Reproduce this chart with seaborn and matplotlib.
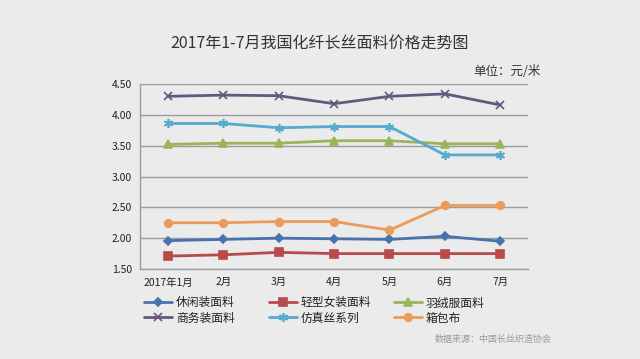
import matplotlib
matplotlib.use("Agg")
import matplotlib.pyplot as plt
import seaborn as sns
import pandas as pd
from matplotlib.ticker import FixedLocator

sns.set_theme(style="white")
plt.rcParams['font.family'] = ['Noto Sans CJK SC', 'DejaVu Sans']

months = ["2017年1月", "2月", "3月", "4月", "5月", "6月", "7月"]
casual = [1.96, 1.98, 2.00, 1.99, 1.98, 2.03, 1.95]
women_light = [1.71, 1.73, 1.77, 1.75, 1.75, 1.75, 1.75]
down = [3.52, 3.54, 3.54, 3.58, 3.58, 3.53, 3.53]
business = [4.30, 4.32, 4.31, 4.18, 4.30, 4.34, 4.16]
silk_like = [3.86, 3.86, 3.79, 3.81, 3.81, 3.35, 3.35]
bag = [2.25, 2.25, 2.27, 2.27, 2.13, 2.53, 2.53]

names = ["休闲装面料", "轻型女装面料", "羽绒服面料", "商务装面料", "仿真丝系列", "箱包布"]
series = [casual, women_light, down, business, silk_like, bag]
colors = ["#4a72ad", "#b94a4b", "#9ab458", "#615a7e", "#55abcc", "#eb9b5a"]
markers = ["D", "s", "^", "x", (6, 2, 0), "o"]
msizes = [4.5, 5.5, 5.5, 5.5, 6.5, 5.5]

bg = "#ebebeb"
fig = plt.figure(figsize=(6.4, 3.59), dpi=100, facecolor=bg)
ax = fig.add_axes([0.219, 0.2507, 0.606, 0.5153], facecolor=bg)

handles = []
for name, vals, c, m, ms in zip(names, series, colors, markers, msizes):
    df = pd.DataFrame({"month": months, "price": vals})
    sns.lineplot(data=df, x="month", y="price", ax=ax, color=c, marker=m,
                 markersize=ms, markeredgecolor=c, markeredgewidth=1.2,
                 linewidth=2.0, sort=False, label=name, legend=False)
    handles.append(ax.lines[-1])

ax.set_xlim(-0.5, 6.5)
ax.set_ylim(1.5, 4.5)
yt = [1.5, 2.0, 2.5, 3.0, 3.5, 4.0, 4.5]
ax.set_yticks(yt)
ax.set_yticklabels([f"{v:.2f}" for v in yt])
ax.yaxis.grid(True, color="#9c9c9c", linewidth=1.0)
ax.set_axisbelow(True)
ax.set_xlabel("")
ax.set_ylabel("")
for s in ["top", "right"]:
    ax.spines[s].set_visible(False)
for s in ["left", "bottom"]:
    ax.spines[s].set_color("#9c9c9c")
    ax.spines[s].set_linewidth(1.0)
ax.xaxis.set_minor_locator(FixedLocator([i - 0.5 for i in range(8)]))
ax.tick_params(axis="x", which="major", length=0, labelsize=7.5, pad=6, colors="#222222")
ax.tick_params(axis="x", which="minor", length=4, direction="out", color="#9c9c9c", width=1)
ax.tick_params(axis="y", which="major", length=4, direction="out", color="#9c9c9c",
               labelsize=7.5, labelcolor="#222222", pad=2)

fig.text(0.5, 0.88, "2017年1-7月我国化纤长丝面料价格走势图", ha="center", va="center",
         fontsize=11.5, color="#333333")
fig.text(0.845, 0.80, "单位：元/米", ha="right", va="center", fontsize=9, color="#333333")
fig.text(0.862, 0.055, "数据来源：中国长丝织造协会", ha="right", va="center", fontsize=6.5, color="#9a9a9a")

col_x = [0.225, 0.42, 0.615]
for k in range(3):
    hs = [handles[k], handles[k + 3]]
    ls = [names[k], names[k + 3]]
    leg = fig.legend(hs, ls, loc="upper left", bbox_to_anchor=(col_x[k], 0.175),
                     frameon=False, fontsize=8.5, handlelength=2.4, handletextpad=0.3,
                     labelspacing=0.2, borderaxespad=0, borderpad=0)
    for t in leg.get_texts():
        t.set_color("#222222")

fig.savefig("out.png", dpi=100, facecolor=bg)
